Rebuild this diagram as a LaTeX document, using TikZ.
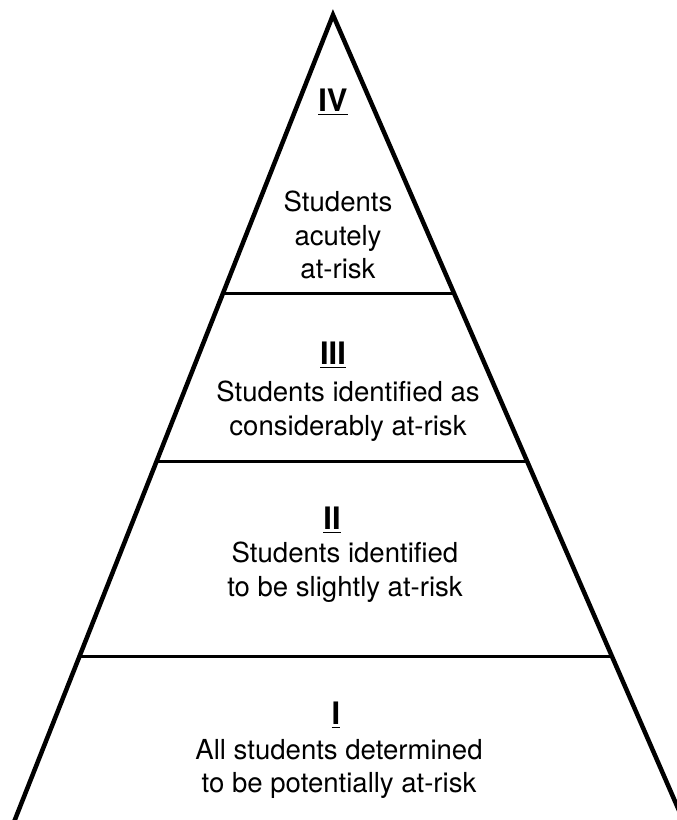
\documentclass[tikz,border=0pt]{standalone}
\usepackage{fontspec}
\setmainfont{TeX Gyre Heros}
\usetikzlibrary{calc}
\begin{document}
\begin{tikzpicture}[x=0.025cm, y=-0.025cm]
    \useasboundingbox (0, 0) rectangle (676, 820);
    \tikzset{every node/.style={font=\fontsize{19.6}{24}\selectfont, align=center}}
    \tikzset{level/.style={font=\fontsize{22}{24}\selectfont\bfseries}}

    \coordinate (apex) at (333, 15);
    \coordinate (bl) at (14, 822);
    \coordinate (br) at (684, 822);

    \coordinate (l43) at ($(apex)!0.345!(bl)$);
    \coordinate (r43) at ($(apex)!0.345!(br)$);
    \coordinate (l32) at ($(apex)!0.553!(bl)$);
    \coordinate (r32) at ($(apex)!0.553!(br)$);
    \coordinate (l21) at ($(apex)!0.795!(bl)$);
    \coordinate (r21) at ($(apex)!0.795!(br)$);

    \node[level] (lvIV) at (333, 102) {\underline{IV}};
    \node (txtIV) at (338, 235) {Students\\acutely\\at-risk};

    \node[level] (lvIII) at (333, 355) {\underline{III}};
    \node (txtIII) at (348, 411) {Students identified as\\considerably at-risk};

    \node[level] (lvII) at (332, 520) {\underline{II}};
    \node (txtII) at (345, 572) {Students identified\\to be slightly at-risk};

    \node[level] (lvI) at (336, 715) {\underline{I}};
    \node (txtI) at (339, 769) {All students determined\\to be potentially at-risk};

    \draw[line width=3.2pt] (bl) -- (apex) -- (br);

    \draw[line width=2.4pt] (l43) -- (r43);
    \draw[line width=2.4pt] (l32) -- (r32);
    \draw[line width=2.4pt] (l21) -- (r21);
\end{tikzpicture}
\end{document}
